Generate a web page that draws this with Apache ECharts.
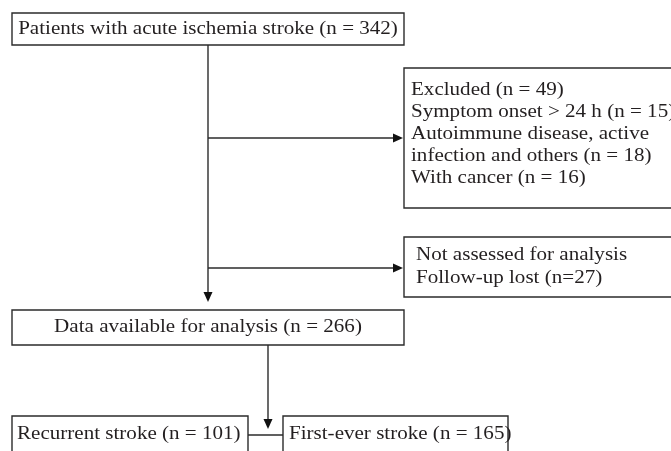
<!DOCTYPE html>
<html>
<head>
<meta charset="utf-8">
<script src="https://cdn.jsdelivr.net/npm/echarts@6/dist/echarts.min.js"></script>
<style>html,body{margin:0;padding:0;background:#fff;}#c{width:671px;height:451px;}</style>
</head>
<body>
<div id="c"></div>
<script>
// ---- data ----
const stageLabels = ['Patients with acute ischemia stroke', 'Data available for analysis', 'Recurrent stroke', 'First-ever stroke'];
const stageCounts = [342, 266, 101, 165];
const excludedTitle = 'Excluded';
const excludedTotal = 49;
const excludedReasons = ['Symptom onset > 24 h', 'Autoimmune disease, active\ninfection and others', 'With cancer'];
const excludedCounts = [15, 18, 16];
const lostTitle = 'Not assessed for analysis';
const lostReasons = ['Follow-up lost'];
const lostCounts = [27];

// ---- styling / layout (chart units = pixels) ----
const FONT = '18px "Liberation Serif"';
const SX = 1.17;
const TXT = '#231f20';
const LINE = '#2b2b2b';
const LW = 1.4;

const fmt = (l, n) => l + ' (n = ' + n + ')';
const withCount = (reason, n, f) => {
  const parts = reason.split('\n');
  parts[parts.length - 1] = f(parts[parts.length - 1], n);
  return parts;
};
const excludedLines = [fmt(excludedTitle, excludedTotal)];
excludedReasons.forEach((r, i) => excludedLines.push(...withCount(r, excludedCounts[i], fmt)));
const lostLines = [lostTitle];
lostReasons.forEach((r, i) => lostLines.push(...withCount(r, lostCounts[i], (l, n) => l + ' (n=' + n + ')')));

const boxes = [
  { x0: 12, y0: 13, x1: 404, y1: 45, align: 'center', firstY: 29, step: 22, lines: [fmt(stageLabels[0], stageCounts[0])] },
  { x0: 404, y0: 68, x1: 700, y1: 208, align: 'left', pad: 7, firstY: 90, step: 22, lines: excludedLines },
  { x0: 404, y0: 237, x1: 700, y1: 297, align: 'left', pad: 12, firstY: 255, step: 23, lines: lostLines },
  { x0: 12, y0: 310, x1: 404, y1: 345, align: 'center', firstY: 327, step: 22, lines: [fmt(stageLabels[1], stageCounts[1])] },
  { x0: 12, y0: 416, x1: 248, y1: 462, align: 'left', pad: 5, firstY: 434, step: 22, lines: [fmt(stageLabels[2], stageCounts[2])] },
  { x0: 283, y0: 416, x1: 508, y1: 462, align: 'left', pad: 6, firstY: 434, step: 22, lines: [fmt(stageLabels[3], stageCounts[3])] }
];
// connectors: [x1, y1, x2, y2, arrow]
const connectors = [
  [208, 45, 208, 302, 1],
  [208, 138, 403, 138, 1],
  [208, 268, 403, 268, 1],
  [268, 345, 268, 429, 1],
  [248, 435, 283, 435, 0]
];

function renderBox(params, api) {
  const b = boxes[params.dataIndex];
  const p0 = api.coord([api.value(0), api.value(1)]);
  const p1 = api.coord([api.value(2), api.value(3)]);
  const children = [{
    type: 'rect',
    shape: { x: p0[0], y: p0[1], width: p1[0] - p0[0], height: p1[1] - p0[1] },
    style: { fill: '#fff', stroke: LINE, lineWidth: LW }
  }];
  b.lines.forEach((t, k) => {
    const tx = b.align === 'center' ? (p0[0] + p1[0]) / 2 : p0[0] + b.pad;
    const ty = api.coord([0, b.firstY + k * b.step])[1];
    children.push({
      type: 'text', x: tx, y: ty, scaleX: SX,
      style: { text: t, font: FONT, fill: TXT, align: b.align, verticalAlign: 'middle' }
    });
  });
  return { type: 'group', children };
}

function renderConnector(params, api) {
  const a = api.coord([api.value(0), api.value(1)]);
  const b = api.coord([api.value(2), api.value(3)]);
  const arrow = api.value(4);
  const children = [];
  const dx = b[0] - a[0], dy = b[1] - a[1];
  const len = Math.sqrt(dx * dx + dy * dy);
  const ux = dx / len, uy = dy / len;
  const L = 10, W = 4.5;
  const end = arrow ? [b[0] - ux * L, b[1] - uy * L] : b;
  children.push({
    type: 'line',
    shape: { x1: a[0], y1: a[1], x2: end[0], y2: end[1] },
    style: { stroke: LINE, lineWidth: LW }
  });
  if (arrow) {
    const bx = b[0] - ux * L, by = b[1] - uy * L;
    children.push({
      type: 'polygon',
      shape: { points: [[b[0], b[1]], [bx - uy * W, by + ux * W], [bx + uy * W, by - ux * W]] },
      style: { fill: '#111' }
    });
  }
  return { type: 'group', children };
}

const chart = echarts.init(document.getElementById('c'), null, { renderer: 'canvas' });
chart.setOption({
  animation: false,
  backgroundColor: '#fff',
  grid: { left: 0, right: 0, top: 0, bottom: 0 },
  xAxis: { type: 'value', min: 0, max: 671, show: false },
  yAxis: { type: 'value', min: 0, max: 451, inverse: true, show: false },
  series: [
    {
      type: 'custom', clip: false, silent: true,
      renderItem: renderConnector,
      data: connectors
    },
    {
      type: 'custom', clip: false, silent: true,
      renderItem: renderBox,
      data: boxes.map(b => [b.x0, b.y0, b.x1, b.y1])
    }
  ]
});
</script>
</body>
</html>
